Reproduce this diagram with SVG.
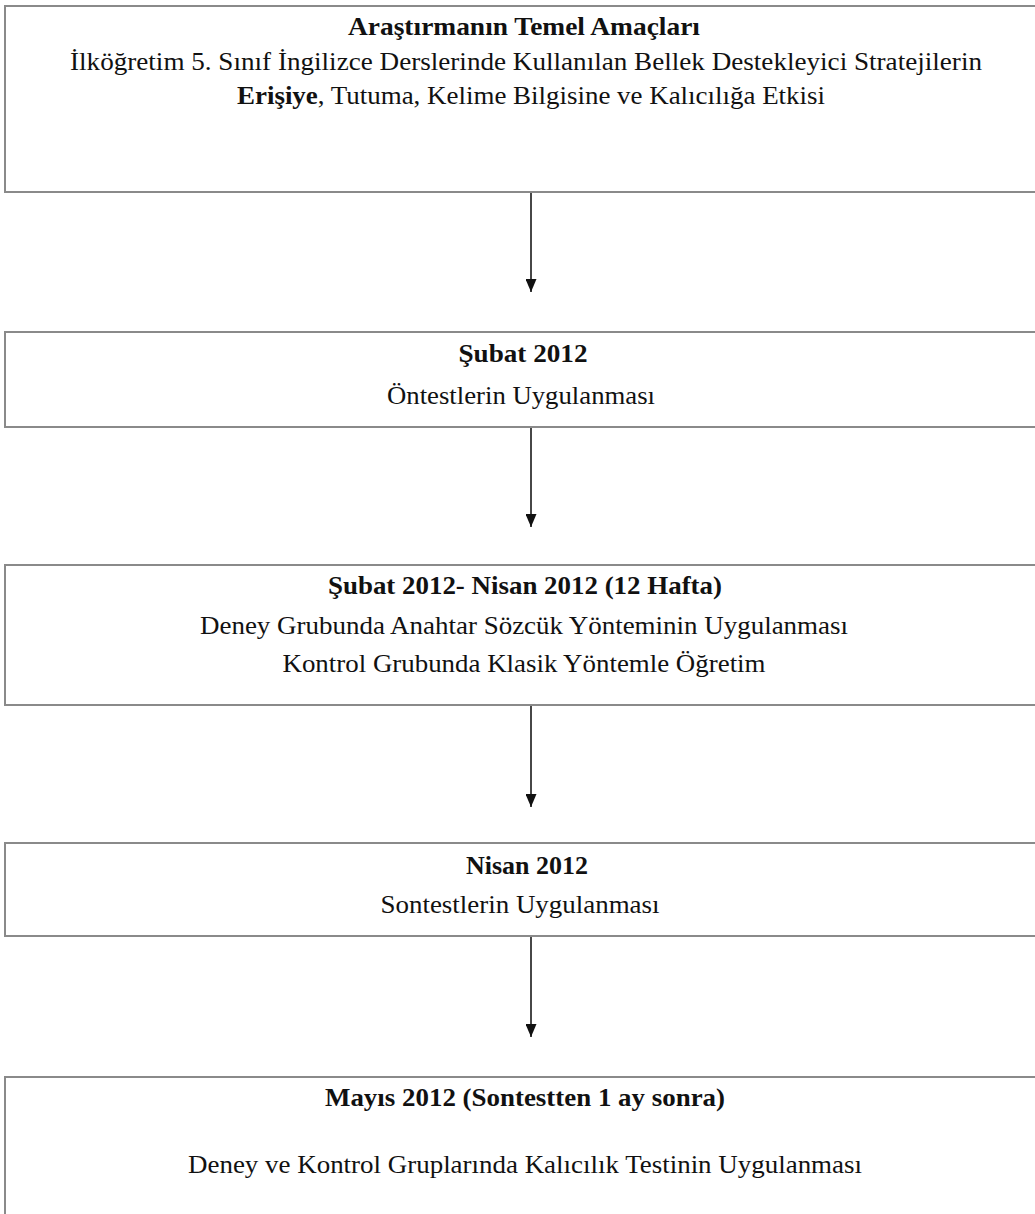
<svg xmlns="http://www.w3.org/2000/svg" width="1035" height="1214" viewBox="0 0 1035 1214">
<style>
.box{fill:#fff;stroke:#8a8a8a;stroke-width:2}
.t{font-family:"Liberation Serif","Times New Roman",serif;font-size:26px;fill:#111;text-anchor:middle}
.b{font-weight:bold}
.c{stroke:#333;stroke-width:1.8;fill:none}
</style>
<defs>
<marker id="ah2" markerWidth="13" markerHeight="11" refX="13" refY="5.5" orient="auto" markerUnits="userSpaceOnUse" viewBox="0 0 13 11">
<path d="M0,0 L13,5.5 L0,11 Z" fill="#111"/>
</marker>
</defs>
<rect width="1035" height="1214" fill="#fff"/>
<g id="connectors">
<line class="c" x1="531" y1="193" x2="531" y2="292" marker-end="url(#ah2)"/>
<line class="c" x1="531" y1="428" x2="531" y2="527" marker-end="url(#ah2)"/>
<line class="c" x1="531" y1="706" x2="531" y2="807" marker-end="url(#ah2)"/>
<line class="c" x1="531" y1="937" x2="531" y2="1037" marker-end="url(#ah2)"/>
</g>
<g id="node1">
<rect class="box" x="5" y="6" width="1045" height="186"/>
<text class="t b" x="524" y="35" textLength="352" lengthAdjust="spacingAndGlyphs">Araştırmanın Temel Amaçları</text>
<text class="t" x="526" y="70" textLength="912" lengthAdjust="spacingAndGlyphs">İlköğretim 5. Sınıf İngilizce Derslerinde Kullanılan Bellek Destekleyici Stratejilerin</text>
<text class="t" x="531" y="104" textLength="588" lengthAdjust="spacingAndGlyphs"><tspan class="b">Erişiye</tspan>, Tutuma, Kelime Bilgisine ve Kalıcılığa Etkisi</text>
</g>
<g id="node2">
<rect class="box" x="5" y="332" width="1045" height="95"/>
<text class="t b" x="523" y="362" textLength="129" lengthAdjust="spacingAndGlyphs">Şubat 2012</text>
<text class="t" x="521" y="404" textLength="268" lengthAdjust="spacingAndGlyphs">Öntestlerin Uygulanması</text>
</g>
<g id="node3">
<rect class="box" x="5" y="565" width="1045" height="140"/>
<text class="t b" x="525" y="594" textLength="394" lengthAdjust="spacingAndGlyphs">Şubat 2012- Nisan 2012 (12 Hafta)</text>
<text class="t" x="524" y="634" textLength="648" lengthAdjust="spacingAndGlyphs">Deney Grubunda Anahtar Sözcük Yönteminin Uygulanması</text>
<text class="t" x="524" y="672" textLength="483" lengthAdjust="spacingAndGlyphs">Kontrol Grubunda Klasik Yöntemle Öğretim</text>
</g>
<g id="node4">
<rect class="box" x="5" y="843" width="1045" height="93"/>
<text class="t b" x="527" y="874" textLength="122" lengthAdjust="spacingAndGlyphs">Nisan 2012</text>
<text class="t" x="520" y="913" textLength="279" lengthAdjust="spacingAndGlyphs">Sontestlerin Uygulanması</text>
</g>
<g id="node5">
<rect class="box" x="5" y="1077" width="1045" height="160"/>
<text class="t b" x="525" y="1106" textLength="400" lengthAdjust="spacingAndGlyphs">Mayıs 2012 (Sontestten 1 ay sonra)</text>
<text class="t" x="525" y="1173" textLength="674" lengthAdjust="spacingAndGlyphs">Deney ve Kontrol Gruplarında Kalıcılık Testinin Uygulanması</text>
</g>
</svg>
